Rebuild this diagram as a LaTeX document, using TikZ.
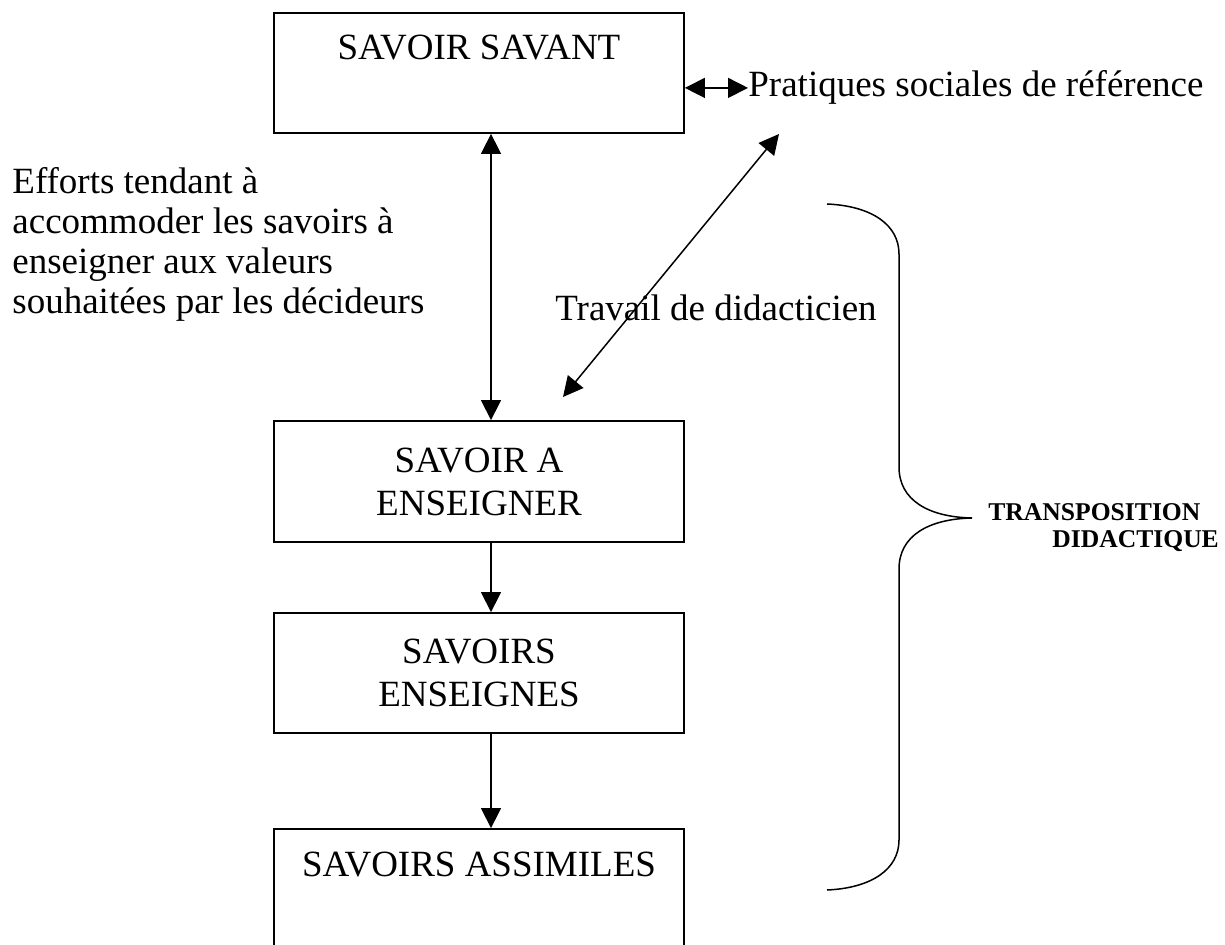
\documentclass[tikz,border=0pt]{standalone}
\usepackage{fontspec}
\setmainfont{Liberation Serif}
\usetikzlibrary{arrows.meta}
\begin{document}
\begin{tikzpicture}[x=0.5pt,y=-0.5pt,
  box/.style={draw, line width=0.9pt, minimum width=205pt, inner sep=0pt, font=\fontsize{18.5}{21.5}\selectfont},
  txt/.style={inner sep=0pt, font=\fontsize{18.5}{20}\selectfont},
  arr/.style={line width=0.75pt, -{Triangle[length=10pt,width=10pt]}},
  dbl/.style={line width=0.75pt, {Triangle[length=10pt,width=10pt]}-{Triangle[length=10pt,width=10pt]}},
  brace/.style={line width=0.75pt},
]
\useasboundingbox (0,0) rectangle (1225,945);
\fill[white] (0,0) rectangle (1225,945);
% boxes
\node[box, minimum height=60pt, text height=23.5pt, text depth=36.5pt] (b1) at (479,73) {SAVOIR SAVANT};
\node[box, minimum height=60.5pt, align=center] (b2) at (479,481.5) {SAVOIR A\\ENSEIGNER};
\node[box, minimum height=60pt, align=center] (b3) at (479,673) {SAVOIRS\\ENSEIGNES};
\node[box, minimum height=65.5pt, text height=23.5pt, text depth=42pt] (b4) at (479,894.5) {SAVOIRS ASSIMILES};
% texts
\node[txt, anchor=base west] (prat) at (748,97) {Pratiques sociales de référence};
\node[txt, anchor=north west, align=left] (eff) at (12,167.5) {Efforts tendant à\\accommoder les savoirs à\\enseigner aux valeurs\\souhaitées par les décideurs};
\node[txt, anchor=base west] (trav) at (555,321) {Travail de didacticien};
\node[inner sep=0pt, anchor=north west, align=left, font=\fontsize{12.8}{13.5}\selectfont\bfseries] (tdid) at (988,503) {TRANSPOSITION\\\hspace*{32pt}DIDACTIQUE};
% connectors
\draw[dbl] (b1.east |- prat.west) -- (prat.west);
\draw[dbl] ([xshift=6pt]b1.south) -- ([xshift=6pt]b2.north);
\draw[arr] ([xshift=6pt]b2.south) -- ([xshift=6pt]b3.north);
\draw[arr] ([xshift=6pt]b3.south) -- ([xshift=6pt]b4.north);
\coordinate (dlow) at (563,397);
\coordinate (dhigh) at (779,134);
\draw[dbl] (dlow) -- (dhigh);
% brace
\coordinate (btop) at (827,204);
\coordinate (btip) at (972,518);
\coordinate (bbot) at (827,890);
\draw[brace] (btop) .. controls (872,206) and (899,225) .. (899,254) -- (899,467)
  .. controls (899,500) and (928,517) .. (btip)
  .. controls (928,519) and (899,536) .. (899,569) -- (899,840)
  .. controls (899,869) and (872,888) .. (bbot);
\end{tikzpicture}
\end{document}
